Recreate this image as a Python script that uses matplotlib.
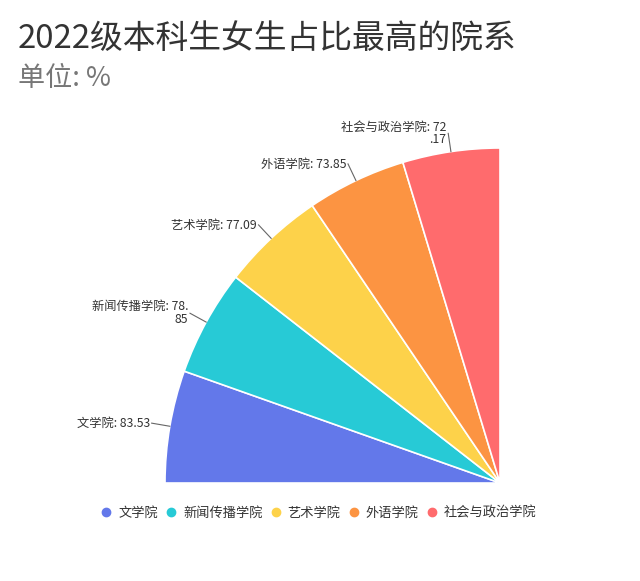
import numpy as np
import matplotlib.pyplot as plt
from matplotlib.lines import Line2D

plt.rcParams['font.family'] = ['Noto Sans CJK SC', 'DejaVu Sans']

# 数据
colleges = ['文学院', '新闻传播学院', '艺术学院', '外语学院', '社会与政治学院']
values = [83.53, 78.85, 77.09, 73.85, 72.17]
# 标签（原图中有换行）
labels = ['文学院: 83.53', '新闻传播学院: 78.\n85', '艺术学院: 77.09',
          '外语学院: 73.85', '社会与政治学院: 72\n.17']
colors = ['#6378EA', '#27CAD6', '#FDD24A', '#FC9442', '#FF6B6D']

W, H = 640, 581
fig = plt.figure(figsize=(W / 100, H / 100), dpi=100)
ax = fig.add_axes([0, 0, 1, 1])

# 四分之一圆：占比按值分配在90度内
frac = np.array(values) / np.sum(values) * 0.25
wedges, _ = ax.pie(frac, colors=colors, startangle=180, counterclock=False,
                   normalize=False, radius=1.0,
                   wedgeprops=dict(edgecolor='white', linewidth=1.2))

# 像素映射：圆心 (500, 483)，半径 335px
cx, cy, R = 500, 483, 335
ax.set_xlim(-cx / R, (W - cx) / R)
ax.set_ylim(-(H - cy) / R, cy / R)
ax.set_aspect('equal')
ax.axis('off')

for w, lab in zip(wedges, labels):
    mid = np.deg2rad((w.theta1 + w.theta2) / 2)
    x0, y0 = np.cos(mid), np.sin(mid)
    x1, y1 = 1.055 * x0, 1.055 * y0
    ax.plot([x0, x1], [y0, y1], color='#666666', lw=0.8)
    ax.text(x1 - 0.005, y1, lab, ha='right', va='center', multialignment='right',
            fontsize=8.8, color='#333333', linespacing=1.0)

fig.text(18 / W, 1 - 39 / H, '2022级本科生女生占比最高的院系', fontsize=23.6,
         color='#333333', va='center', ha='left')
fig.text(18 / W, 1 - 79 / H, '单位: %', fontsize=19.5, color='#777777',
         va='center', ha='left')

handles = [Line2D([], [], marker='o', ls='', markersize=6, markerfacecolor=c,
                  markeredgecolor=c) for c in colors]
fig.legend(handles, colleges, loc='center', bbox_to_anchor=(0.497, 1 - 513 / H),
           ncol=5, frameon=False, fontsize=9.5, handletextpad=0.4,
           handlelength=1.0, columnspacing=0.5, labelcolor='#333333')

fig.savefig('out.png', dpi=100)
